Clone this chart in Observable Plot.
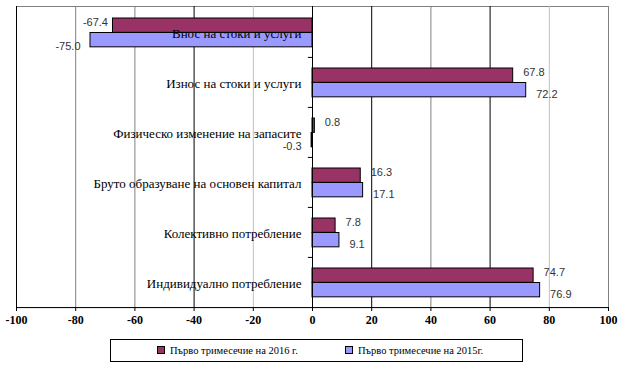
<!DOCTYPE html>
<html><head><meta charset="utf-8">
<script src="https://cdn.jsdelivr.net/npm/d3@7"></script>
<script src="https://cdn.jsdelivr.net/npm/@observablehq/plot@0.6"></script>
<style>
body{margin:0;background:#fff;}
#chart{position:absolute;left:0;top:0;}
#legend{position:absolute;left:110px;top:339px;width:413px;height:23px;border:1px solid #000;box-sizing:border-box;font-family:"Liberation Serif","Times New Roman","Tinos","DejaVu Serif",serif;font-size:10.5px;color:#000;}
.item{position:absolute;top:4px;white-space:nowrap;line-height:13px;}
.sw{display:inline-block;width:6px;height:6px;border:1px solid #000;margin-right:5px;vertical-align:0px;}
</style></head><body>
<div id="chart"></div>
<div id="legend"></div>
<script>
const categories = [
  "Внос на стоки и услуги",
  "Износ на стоки и услуги",
  "Физическо изменение на запасите",
  "Бруто образуване на основен капитал",
  "Колективно потребление",
  "Индивидуално потребление"
];
const seriesNames = ["Първо тримесечие на 2016 г.", "Първо тримесечие на 2015г."];
const values2016 = [-67.4, 67.8, 0.8, 16.3, 7.8, 74.7];
const values2015 = [-75.0, 72.2, -0.3, 17.1, 9.1, 76.9];
const xTicks = [-100, -80, -60, -40, -20, 0, 20, 40, 60, 80, 100];
const colors = ["#993366", "#9999FF"];

const d2016 = categories.map((c, i) => ({category: c, value: values2016[i]}));
const d2015 = categories.map((c, i) => ({category: c, value: values2015[i]}));

const W = 630, H = 330, MT = 6, MB = 23;
const bw = (H - MT - MB) / categories.length;
const serif = "'Liberation Serif', 'Times New Roman', Tinos, 'DejaVu Serif', serif";

function gridColor(t) {
  if ([-40, 20, 60].includes(t)) return "#000000";
  if ([-20, 80].includes(t)) return "#c0c0c0";
  return "#808080";
}
const valueFont = {fontFamily: "'Liberation Sans', Arial, sans-serif", fontSize: 11, fill: "#333"};

const chart = Plot.plot({
  width: W, height: H,
  marginTop: MT, marginBottom: MB, marginLeft: 16, marginRight: 22,
  x: {domain: [-100, 100], label: null},
  y: {domain: categories, padding: 0, axis: null},
  marks: [
    Plot.frame({stroke: "#808080"}),
    Plot.ruleX(xTicks.filter(t => t !== 0 && Math.abs(t) !== 100), {x: d => d, stroke: d => gridColor(d)}),
    Plot.ruleX([xTicks[0]], {stroke: "#000"}),
    Plot.barX(d2016, {x: "value", y: "category", fill: colors[0], stroke: "#000", strokeWidth: 1, insetTop: 11, insetBottom: bw - 25.5}),
    Plot.barX(d2015, {x: "value", y: "category", fill: colors[1], stroke: "#000", strokeWidth: 1, insetTop: 25.5, insetBottom: bw - 40}),
    Plot.ruleX([0], {stroke: "#000"}),
    Plot.ruleY(categories.slice(1), {y: d => d, x1: -1.4, x2: 0, dy: -bw / 2, stroke: "#000"}),
    Plot.ruleY([categories[categories.length - 1]], {y: d => d, dy: bw / 2, stroke: "#000"}),
    Plot.text(categories, {x: () => 0, y: d => d, text: d => d, textAnchor: "end", dx: -11, dy: 1,
      fontFamily: serif, fontSize: 13, fill: "#000"}),
    Plot.text(d2016, {filter: d => d.value >= 0, x: "value", y: "category", text: d => d.value.toFixed(1), textAnchor: "start", dx: 10, dy: -10, ...valueFont}),
    Plot.text(d2016, {filter: d => d.value < 0, x: "value", y: "category", text: d => d.value.toFixed(1), textAnchor: "end", dx: -5, dy: -10, ...valueFont}),
    Plot.text(d2015, {filter: d => d.value >= 0, x: "value", y: "category", text: d => d.value.toFixed(1), textAnchor: "start", dx: 10, dy: 11.5, ...valueFont}),
    Plot.text(d2015, {filter: d => d.value < 0, x: "value", y: "category", text: d => d.value.toFixed(1), textAnchor: "end", dx: -10, dy: 14, ...valueFont}),
    Plot.axisX({ticks: xTicks, tickSize: 4, tickPadding: 4, tickFormat: d => String(d), label: null,
      fontFamily: serif, fontWeight: "bold", fontSize: 12, fill: "#000", stroke: "#000"})
  ]
});
document.getElementById("chart").appendChild(chart);

const legend = document.getElementById("legend");
const positions = [46, 234];
seriesNames.forEach((name, i) => {
  const it = document.createElement("div");
  it.className = "item";
  it.style.left = positions[i] + "px";
  const sw = document.createElement("span");
  sw.className = "sw";
  sw.style.background = colors[i];
  it.appendChild(sw);
  it.appendChild(document.createTextNode(name));
  legend.appendChild(it);
});
</script>
</body></html>
